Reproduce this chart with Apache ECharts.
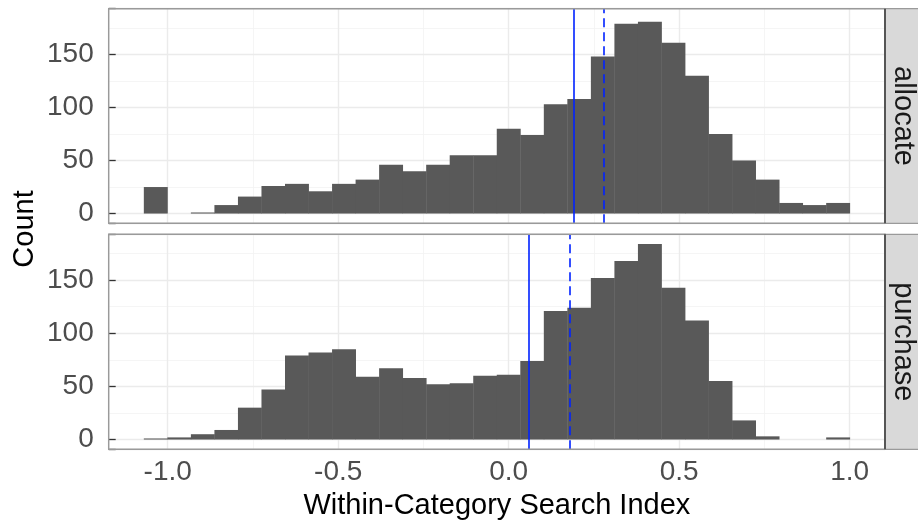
<!DOCTYPE html>
<html>
<head>
<meta charset="utf-8">
<script src="https://cdn.jsdelivr.net/npm/echarts@6/dist/echarts.min.js"></script>
<style>html,body{margin:0;padding:0;background:#fff;}#c{width:918px;height:522px;}</style>
</head>
<body>
<div id="c"></div>
<script>
// ---- data ----
const binEdges = [-1.070,-1.001,-0.932,-0.863,-0.794,-0.725,-0.656,-0.587,-0.518,-0.449,-0.380,-0.311,-0.242,-0.173,-0.104,-0.035,0.034,0.103,0.172,0.241,0.310,0.379,0.448,0.517,0.586,0.655,0.724,0.793,0.862,0.931,1.000];
const allocateCounts = [25,0,1,8,16,26,28,21,28,32,46,40,46,55,55,80,74,103,108,148,179,181,161,130,75,50,32,10,8,10];
const purchaseCounts = [1,2,5,9,30,47,79,82,85,59,67,58,52,53,60,61,74,121,124,152,168,184,143,112,55,18,3,0,0,2];
const panelNames = ['allocate', 'purchase'];
const solidLines = [0.19, 0.061];
const dashedLines = [0.285, 0.176];
const xTickLabels = ['-1.0', '-0.5', '0.0', '0.5', '1.0'];
const yTickLabels = ['0', '50', '100', '150'];
const xTitle = 'Within-Category Search Index';
const yTitle = 'Count';

// ---- layout ----
const W = 918, Hh = 522;
const L = 108.7, RGT = 885;
const panels = [{top: 8.7, h: 214.6}, {top: 234.3, h: 215}];
const xMin = -1.173, xMax = 1.1035, yMin = -9.2, yMax = 193.2;
const FONT = "'Liberation Sans', Arial, Helvetica, sans-serif";

const chart = echarts.init(document.getElementById('c'), null, {renderer: 'canvas'});

function isMult(v, step) { const r = v / step; return Math.abs(r - Math.round(r)) < 1e-6; }

const grids = panels.map(p => ({left: L, width: RGT - L, top: p.top, height: p.h, containLabel: false}));
const xAxes = [], yAxes = [], series = [];
const countsList = [allocateCounts, purchaseCounts];

panels.forEach((p, gi) => {
  const last = gi === panels.length - 1;
  // major x
  xAxes.push({
    type: 'value', gridIndex: gi, position: 'bottom', min: xMin, max: xMax, minInterval: 0.5, maxInterval: 0.5,
    axisLine: {show: false, onZero: false}, axisTick: {show: false},
    splitLine: {show: true, lineStyle: {color: '#EBEBEB', width: 1.4}},
    axisLabel: {
      show: last, margin: 9, color: '#4D4D4D', fontSize: 28, fontFamily: FONT,
      formatter: v => { if (!isMult(v, 0.5)) return ''; let s = v.toFixed(1); if (s === '-0.0') s = '0.0'; return xTickLabels.indexOf(s) >= 0 ? s : ''; }
    }
  });
  // minor x
  xAxes.push({
    type: 'value', gridIndex: gi, position: 'bottom', min: xMin, max: xMax, minInterval: 0.25, maxInterval: 0.25,
    axisLine: {show: false, onZero: false}, axisTick: {show: false}, axisLabel: {show: false},
    splitLine: {show: true, lineStyle: {color: '#F2F2F2', width: 0.8}}, z: -1
  });
  // major y (labels + gridlines)
  yAxes.push({
    type: 'value', gridIndex: gi, position: 'left', min: yMin, max: yMax, minInterval: 50, maxInterval: 50,
    axisLine: {show: false, onZero: false},
    axisTick: {show: false},
    splitLine: {show: true, lineStyle: {color: '#EBEBEB', width: 1.4}},
    axisLabel: {
      show: true, margin: 15, color: '#4D4D4D', fontSize: 28, fontFamily: FONT,
      formatter: v => { if (!isMult(v, 50)) return ''; const s = String(Math.round(v)); return yTickLabels.indexOf(s) >= 0 ? s : ''; }
    }
  });
  // minor y
  yAxes.push({
    type: 'value', gridIndex: gi, position: 'left', min: yMin, max: yMax, minInterval: 25, maxInterval: 25,
    axisLine: {show: false, onZero: false}, axisTick: {show: false}, axisLabel: {show: false},
    splitLine: {show: true, lineStyle: {color: '#F2F2F2', width: 0.8}}, z: -1
  });
  // tick-only y axis (ticks drawn inside)
  yAxes.push({
    type: 'value', gridIndex: gi, position: 'left', min: yMin, max: yMax, minInterval: 50, maxInterval: 50,
    axisLine: {show: false, onZero: false},
    axisTick: {show: true, inside: true, length: 7, lineStyle: {color: '#333333', width: 1.3}},
    splitLine: {show: false}, axisLabel: {show: false}, z: 50
  });

  const counts = countsList[gi];
  const data = counts.map((c, i) => [binEdges[i], binEdges[i + 1], c]);
  series.push({
    type: 'custom', xAxisIndex: gi * 2, yAxisIndex: gi * 3, z: 3,
    data: data,
    encode: {x: [0, 1], y: 2},
    renderItem: (params, api) => {
      const c = api.value(2);
      if (!(c > 0)) return null;
      const p0 = api.coord([api.value(0), c]);
      const p1 = api.coord([api.value(1), 0]);
      return {type: 'rect', shape: {x: p0[0], y: p0[1], width: p1[0] - p0[0] + 0.4, height: p1[1] - p0[1]},
              style: {fill: '#595959'}};
    },
    markLine: {
      silent: true, symbol: 'none', animation: false, label: {show: false},
      lineStyle: {color: '#0022FF', width: 1.6},
      data: [
        {xAxis: solidLines[gi], lineStyle: {type: 'solid', color: '#0022FF', width: 1.6}},
        {xAxis: dashedLines[gi], lineStyle: {type: [9, 5], color: '#0022FF', width: 1.6}}
      ]
    }
  });
});

const graphics = [];
panels.forEach((p, gi) => {
  graphics.push({type: 'rect', z: 100, shape: {x: RGT, y: p.top, width: W - RGT + 5, height: p.h},
    style: {fill: '#D9D9D9', stroke: '#9A9A9A', lineWidth: 1.3}});
  graphics.push({type: 'rect', z: 101, shape: {x: L, y: p.top, width: RGT - L, height: p.h},
    style: {fill: null, stroke: '#9A9A9A', lineWidth: 1.4}});
  graphics.push({type: 'line', z: 102, shape: {x1: RGT, y1: p.top, x2: RGT, y2: p.top + p.h},
    style: {stroke: '#555555', lineWidth: 2}});
  graphics.push({type: 'text', z: 103, x: 903, y: p.top + p.h / 2, rotation: -Math.PI / 2,
    style: {text: panelNames[gi], fill: '#1A1A1A', font: "29px " + FONT, align: 'center', verticalAlign: 'middle'}});
});
graphics.push({type: 'text', z: 103, x: 25, y: (panels[0].top + panels[1].top + panels[1].h) / 2, rotation: Math.PI / 2,
  style: {text: yTitle, fill: '#000000', font: "29px " + FONT, align: 'center', verticalAlign: 'middle'}});
graphics.push({type: 'text', z: 103, x: (L + RGT) / 2, y: 506,
  style: {text: xTitle, fill: '#000000', font: "29px " + FONT, align: 'center', verticalAlign: 'middle'}});

chart.setOption({
  animation: false,
  backgroundColor: '#FFFFFF',
  grid: grids,
  xAxis: xAxes,
  yAxis: yAxes,
  series: series,
  graphic: graphics
});
</script>
</body>
</html>
